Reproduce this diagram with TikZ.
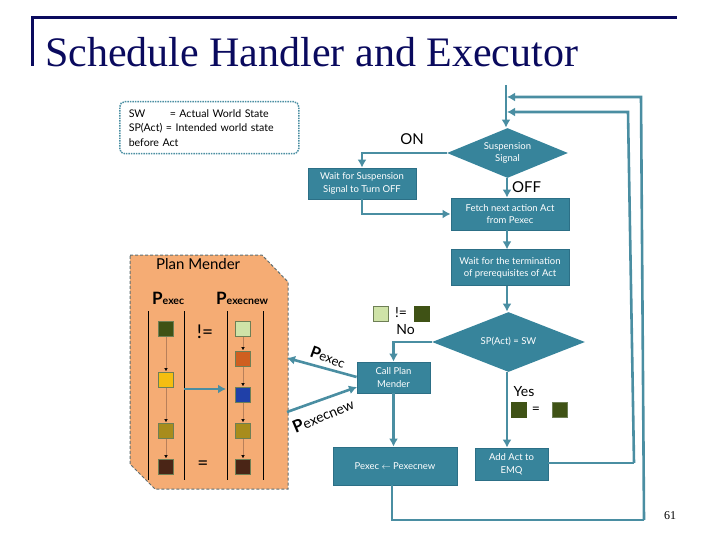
\documentclass[tikz,border=0pt]{standalone}
\usepackage{fontspec}
\setmainfont{Liberation Serif}
\setsansfont{Lato}
\usetikzlibrary{arrows.meta}
\usetikzlibrary{positioning}
\usetikzlibrary{shapes.geometric}
\definecolor{navy}{HTML}{0A0A5E}
\definecolor{teal}{HTML}{37849B}
\definecolor{tealdark}{HTML}{2C6F86}
\definecolor{tealline}{HTML}{4A8EA2}
\definecolor{mender}{HTML}{F5AC74}
\definecolor{menderline}{HTML}{5E6F73}
\definecolor{chipline}{HTML}{6E7F55}
\definecolor{darkleaf}{HTML}{3F5215}
\definecolor{paleleaf}{HTML}{CFE3A8}
\definecolor{rust}{HTML}{CF5F20}
\definecolor{amber}{HTML}{F5BE10}
\definecolor{royal}{HTML}{2040A8}
\definecolor{olive}{HTML}{A88C1C}
\definecolor{umber}{HTML}{4A2516}
\definecolor{thread}{HTML}{B8805A}
\tikzset{
  stage/.style={
    draw=tealdark,
    fill=teal,
    rectangle,
    text=white,
    line width=0.8pt,
    align=center,
    inner sep=0,
    node font=\sffamily\fontsize{9.5}{12.5}\selectfont,
  },
  decision/.style={
    stage,
    draw=none,
    diamond,
    aspect=2.4,
  },
  flow/.style={
    draw,
    -{Latex[length=8pt,width=9pt]},
    tealline,
    line width=2.6pt,
  },
  plainflow/.style={
    draw,
    tealline,
    line width=2.6pt,
  },
  chip/.style={
    draw=chipline,
    line width=1.2pt,
    rectangle,
    minimum size=15.5pt,
    inner sep=0,
  },
  thin flow/.style={
    draw,
    thread,
    line width=0.5pt,
    -{Latex[length=3pt,width=3.5pt,black]},
    shorten >=0.5pt,
  },
  column/.style={
    draw,
    black,
    line width=0.9pt,
  },
  caption/.style={
    black,
    inner sep=0,
    node font=\sffamily\fontsize{15}{18}\selectfont,
  },
  tag/.style={
    black,
    inner sep=0,
    node font=\sffamily\fontsize{14}{16}\selectfont,
  },
}
\begin{document}
\begin{tikzpicture}[x=1pt,y=-1pt]
  \useasboundingbox (0,0) rectangle (720,540);

  % slide title
  \draw [navy,line width=3pt] (32,66) -- (32,18) -- (677,18);
  \node (title) [navy,anchor=base west,inner sep=0,font=\rmfamily\fontsize{42}{46}\selectfont] at (45,67) {Schedule Handler and Executor};
  \node (page) [black,inner sep=0,font=\rmfamily\fontsize{12}{14}\selectfont] at (670,516) {61};

  % legend
  \node (legend) [draw=tealline,densely dotted,line width=1.5pt,rounded corners=5pt,text width=161pt,minimum height=52pt,inner xsep=9pt,inner ysep=0,align=left,anchor=north west,font=\sffamily\fontsize{10.6}{14.5}\selectfont] at (119,101) {%
    \makebox[41pt][l]{SW}= Actual World State\\
    SP(Act) = Intended world state\\
    before Act};

  % right hand flow
  \node (signal)  [decision,minimum width=121pt,minimum height=50pt] at (507.5,153) {Suspension\\Signal};
  \node (suspend) [stage,minimum width=108pt,minimum height=31pt] at (362,183.5) {Wait for Suspension\\Signal to Turn OFF};
  \node (fetch)   [stage,minimum width=118pt,minimum height=32pt] at (510,214) {Fetch next action Act\\from Pexec};
  \node (prereq)  [stage,minimum width=118pt,minimum height=36pt,below=19pt of fetch] {Wait for the termination\\of prerequisites of Act};
  \node (match)   [decision,minimum width=153pt,minimum height=60pt] at (508.5,342) {SP(Act) = SW};
  \node (call)    [stage,minimum width=73pt,minimum height=31pt] at (393.5,377.5) {Call Plan\\Mender};
  \node (swap)    [stage,minimum width=124pt,minimum height=38pt] at (395,466) {Pexec $\leftarrow$ Pexecnew};
  \node (emq)     [stage,minimum width=73pt,minimum height=32pt] at (511.5,464) {Add Act to\\EMQ};

  \coordinate (entry) at (506,85);
  \coordinate (inner join) at (507,112);
  \coordinate (outer join) at (507,97);
  \coordinate (inner top) at (628,112);
  \coordinate (inner low) at (634,463);
  \coordinate (outer top) at (641,97);
  \coordinate (outer low) at (644,520);
  \coordinate (swap low) at (392,520);

  \path [flow] (entry) -- (entry |- signal.north);
  \path [flow] (signal.south -| 507,0) -- (507,0 |- fetch.north);
  \path [flow] (signal.west) -| (suspend.north);
  \path [flow] (suspend.south) |- (fetch.west);
  \path [flow] (fetch.south -| 507,0) -- (507,0 |- prereq.north);
  \path [flow] (prereq.south -| 507,0) -- (507,0 |- match.north);
  \path [flow] (match.west) -| (call.north);
  \path [flow] (call.south) -- (call.south |- swap.north);
  \path [flow] (match.south -| 507,0) -- (507,0 |- emq.north);

  % way back to the top
  \path [plainflow] (emq.east |- inner low) -- (inner low);
  \path [flow] (inner low) -- (inner top) -- (inner join);
  \path [plainflow] (swap.south -| swap low) -- (swap low) -- (outer low);
  \path [flow] (outer low) -- (outer top) -- (outer join);

  % flow labels
  \node (on)  [caption] at (412,139) {ON};
  \node (off) [caption] at (526.5,187) {OFF};
  \node (no)  [tag] at (405.5,330) {No};
  \node (yes) [tag] at (524,392) {Yes};
  \node (differ) [tag] at (401,313) {!=};
  \node (same)   [tag] at (536,410) {=};
  \node (no new)  [chip,fill=paleleaf] at (381,314) {};
  \node (no old)  [chip,fill=darkleaf,draw=darkleaf] at (422,314) {};
  \node (yes old) [chip,fill=darkleaf,draw=darkleaf] at (519,410) {};
  \node (yes new) [chip,fill=darkleaf] at (560,410) {};

  % plan mender
  \draw [menderline,densely dashed,fill=mender,line width=1pt] (130,255) -- (262,255) -- (288,282) -- (288,489) -- (155,489) -- (130,464) -- cycle;
  \node (mender) [inner sep=0,anchor=base west,font=\sffamily\fontsize{15}{16}\selectfont] at (156,269) {Plan Mender};

  \node (exec title) [inner sep=0,anchor=base west,font=\sffamily\bfseries\fontsize{17}{18}\selectfont] at (152,304) {P{\fontsize{10.5}{11}\selectfont exec}};
  \node (new title)  [inner sep=0,anchor=base west,font=\sffamily\bfseries\fontsize{17}{18}\selectfont] at (216,304) {P{\fontsize{10.5}{11}\selectfont execnew}};

  \draw [column] (148,311) -- (148,480);
  \draw [column] (184,311) -- (184,480);
  \draw [column] (227,311) -- (227,480);
  \draw [column] (263,311) -- (263,480);

  \node (exec1) [chip,fill=darkleaf] at (166,329) {};
  \node (exec2) [chip,fill=amber]    at (166,380) {};
  \node (exec3) [chip,fill=olive]    at (166,431) {};
  \node (exec4) [chip,fill=umber]    at (166,467) {};

  \node (new1) [chip,fill=paleleaf] at (243,329) {};
  \node (new2) [chip,fill=rust]     at (243,359) {};
  \node (new3) [chip,fill=royal]    at (243,395) {};
  \node (new4) [chip,fill=olive]    at (243,431) {};
  \node (new5) [chip,fill=umber]    at (243,467) {};

  \path [thin flow] (exec1) -- (exec2);
  \path [thin flow] (exec2) -- (exec3);
  \path [thin flow] (exec3) -- (exec4);
  \path [thin flow] (new1) -- (new2);
  \path [thin flow] (new2) -- (new3);
  \path [thin flow] (new3) -- (new4);
  \path [thin flow] (new4) -- (new5);

  \node (not equal) [inner sep=0,font=\sffamily\fontsize{19}{20}\selectfont] at (205,332) {!=};
  \node (equal)     [inner sep=0,font=\sffamily\fontsize{19}{20}\selectfont] at (203,465) {=};

  \coordinate (column gap) at (184,389);
  \coordinate (new column) at (226,389);
  \path [flow] (column gap) -- (new column);

  % plan mender calls
  \coordinate (mender in) at (287,358);
  \coordinate (mender out) at (287,412);
  \coordinate (call in) at (357,387);
  \path [flow] (call.west |- 0,377) -- (mender in);
  \path [flow] (mender out) -- (call in);

  \node (pexec)    [rotate=-20,inner sep=0,font=\sffamily\fontsize{13}{14}\selectfont] at (328,357) {\textbf{\fontsize{16}{16}\selectfont P}exec};
  \node (pexecnew) [rotate=23,inner sep=0,font=\sffamily\fontsize{14}{14}\selectfont] at (323,415) {\textbf{\fontsize{17}{16}\selectfont P}execnew};
\end{tikzpicture}
\end{document}
